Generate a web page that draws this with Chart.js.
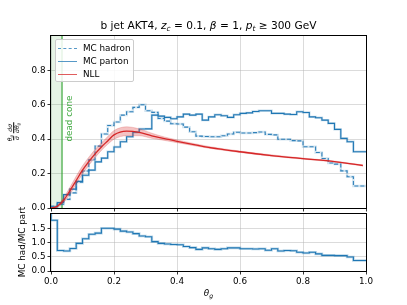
<!DOCTYPE html>
<html lang="en">
<head>
<meta charset="UTF-8">
<title>b jet AKT4 theta_g</title>
<script src="https://cdn.jsdelivr.net/npm/chart.js"></script>
<style>
  body { margin:0; width:407px; height:305px; background:#fff; position:relative; overflow:hidden;
         font-family:"DejaVu Sans", sans-serif; color:#000; }
  canvas { position:absolute; left:0; }
  #main { top:0; }
  #ratio { top:210px; }
  #title { position:absolute; left:0; width:417px; top:19px; text-align:center; font-size:10.6px; white-space:nowrap; }
  #title sub, #xlab sub, #ylab sub { font-size:0.7em; vertical-align:-0.25em; line-height:0; }
  .rot { position:absolute; transform:translate(-50%,-50%) rotate(-90deg); white-space:nowrap; }
  #ylab { left:13.5px; top:132px; font-size:6px; font-style:italic; display:flex; align-items:center; }
  .frac { display:inline-flex; flex-direction:column; align-items:center; margin:0 1px; line-height:1.05; }
  .den { border-top:0.6px solid #000; }
  #rlab { left:21.5px; top:242px; font-size:8.8px; }
  #xlab { position:absolute; left:0; width:417px; top:288px; text-align:center; font-size:8.8px; font-style:italic; }
  #legend { position:absolute; left:55px; top:39px; width:79px; height:43px; box-sizing:border-box;
            border:1px solid #ccc; border-radius:2px; background:rgba(255,255,255,0.85);
            font-size:8.8px; padding-top:2px; z-index:2; }
  #legend .row { height:13px; line-height:13px; white-space:nowrap; }
  #legend .hd { display:inline-block; width:19px; margin:0 6px 0 2px; vertical-align:middle; border-top:1.5px solid; }
</style>
</head>
<body>
<canvas id="main" width="407" height="212"></canvas>
<canvas id="ratio" width="407" height="95"></canvas>

<div id="title">b jet AKT4, <i>z</i><sub><i>c</i></sub> = 0.1, <i>β</i> = 1, <i>p</i><sub><i>t</i></sub> ≥ 300 GeV</div>
<div id="ylab" class="rot">
  <span class="frac"><span>θ<sub>g</sub></span><span class="den">σ</span></span>
  <span class="frac"><span>dσ</span><span class="den">dθ<sub>g</sub></span></span>
</div>
<div id="rlab" class="rot">MC had/MC part</div>
<div id="xlab">θ<sub>g</sub></div>
<div id="legend">
  <div class="row"><span class="hd" style="border-top:1.5px dashed rgba(31,119,180,0.75)"></span>MC hadron</div>
  <div class="row"><span class="hd" style="border-color:rgba(31,119,180,0.75)"></span>MC parton</div>
  <div class="row"><span class="hd" style="border-color:rgba(214,39,40,0.75)"></span>NLL</div>
</div>

<script>
// axis ticks
const xTicks = [0, 0.2, 0.4, 0.6, 0.8, 1.0];
const mainYTicks = [0, 0.2, 0.4, 0.6, 0.8];
const ratioYTicks = [0, 0.5, 1.0, 1.5];
const deadConeEdge = 0.035;

// histograms, 50 bins of width 0.02 on [0, 1]
const hadron = [0.004, 0.01, 0.022, 0.05, 0.088, 0.15, 0.215, 0.28, 0.36, 0.43,
                0.48, 0.5, 0.54, 0.56, 0.585, 0.6, 0.565, 0.556, 0.52, 0.505,
                0.49, 0.488, 0.47, 0.443, 0.418, 0.416, 0.414, 0.414, 0.42, 0.43,
                0.44, 0.436, 0.436, 0.438, 0.442, 0.428, 0.425, 0.4, 0.4, 0.392,
                0.39, 0.356, 0.356, 0.323, 0.288, 0.262, 0.255, 0.216, 0.182, 0.128];
const parton = [0.002, 0.0056, 0.031, 0.078, 0.11, 0.155, 0.19, 0.22, 0.268, 0.29,
                0.327, 0.355, 0.385, 0.414, 0.44, 0.459, 0.46, 0.54, 0.534, 0.527,
                0.519, 0.53, 0.546, 0.54, 0.546, 0.511, 0.53, 0.542, 0.536, 0.527,
                0.542, 0.55, 0.553, 0.561, 0.565, 0.565, 0.55, 0.55, 0.546, 0.544,
                0.56, 0.555, 0.53, 0.525, 0.511, 0.492, 0.457, 0.405, 0.385, 0.327];
const ratio = [2.6, 1.78, 0.72, 0.70, 0.79, 0.97, 1.13, 1.29, 1.33, 1.5,
               1.5, 1.47, 1.4, 1.37, 1.31, 1.23, 1.2, 1.03, 0.97, 0.95,
               0.93, 0.92, 0.86, 0.82, 0.76, 0.81, 0.78, 0.76, 0.78, 0.81,
               0.81, 0.78, 0.78, 0.77, 0.78, 0.73, 0.78, 0.7, 0.72, 0.71,
               0.66, 0.63, 0.66, 0.6, 0.55, 0.55, 0.54, 0.54, 0.49, 0.37];

// NLL curve and its band
const nllTheta = [0, 0.02, 0.04, 0.06, 0.08, 0.1, 0.12, 0.14, 0.16, 0.18, 0.2,
                  0.24, 0.28, 0.32, 0.36, 0.4, 0.5, 0.6, 0.7, 0.8, 0.9, 0.99];
const nll   = [0, 0.01, 0.045, 0.1, 0.16, 0.22, 0.27, 0.315, 0.355, 0.39, 0.425,
               0.447, 0.44, 0.42, 0.403, 0.388, 0.353, 0.327, 0.305, 0.287, 0.27, 0.247];
const nllHi = [0, 0.015, 0.06, 0.12, 0.185, 0.245, 0.295, 0.34, 0.378, 0.415, 0.45,
               0.472, 0.46, 0.435, 0.413, 0.396, 0.358, 0.331, 0.309, 0.29, 0.273, 0.25];
const nllLo = [0, 0.005, 0.032, 0.08, 0.138, 0.198, 0.248, 0.293, 0.335, 0.37, 0.4,
               0.42, 0.42, 0.405, 0.393, 0.38, 0.348, 0.323, 0.301, 0.284, 0.267, 0.244];

const binEdges = hadron.map((_, i) => +(i * 0.02).toFixed(2)).concat(1.0);

function steps(vals) {
  const pts = vals.map((v, i) => ({ x: binEdges[i], y: v }));
  pts.push({ x: binEdges[vals.length], y: vals[vals.length - 1] });
  return pts;
}
const curve = vals => vals.map((v, i) => ({ x: nllTheta[i], y: v }));

const BLUE = '#1f77b4', RED = '#d62728';
const tickFont = { family: 'DejaVu Sans', size: 8.8 };

const frame = {
  id: 'frame',
  afterDatasetsDraw(chart) {
    const a = chart.chartArea, c = chart.ctx;
    c.save();
    c.strokeStyle = '#000';
    c.lineWidth = 1;
    c.strokeRect(a.left - 0.5, a.top - 0.5, a.right - a.left + 1, a.bottom - a.top + 1);
    c.restore();
  }
};

const deadCone = {
  id: 'deadCone',
  beforeDatasetsDraw(chart) {
    const { ctx, chartArea: a, scales: { x, y } } = chart;
    const x0 = x.getPixelForValue(0), x1 = x.getPixelForValue(deadConeEdge);
    ctx.save();
    ctx.fillStyle = 'rgba(44,160,44,0.12)';
    ctx.fillRect(x0, a.top, x1 - x0, a.bottom - a.top);
    ctx.strokeStyle = 'rgba(44,160,44,0.85)';
    ctx.lineWidth = 1.3;
    ctx.beginPath();
    ctx.moveTo(x1, a.top);
    ctx.lineTo(x1, a.bottom);
    ctx.stroke();
    ctx.translate(x1 + 7.5, y.getPixelForValue(0.52));
    ctx.rotate(-Math.PI / 2);
    ctx.fillStyle = 'rgba(44,160,44,0.9)';
    ctx.font = '8.8px "DejaVu Sans"';
    ctx.textAlign = 'center';
    ctx.textBaseline = 'middle';
    ctx.fillText('dead cone', 0, 0);
    ctx.restore();
  }
};

function xScale(showLabels, height) {
  return {
    type: 'linear', min: 0, max: 1,
    afterBuildTicks: s => { s.ticks = xTicks.map(v => ({ value: v })); },
    afterFit: s => { s.height = height; s.paddingLeft = 0; s.paddingRight = 0; },
    ticks: { display: showLabels, font: tickFont, color: '#000', padding: 2,
             maxRotation: 0, callback: v => v.toFixed(1) },
    grid: { color: 'rgba(180,180,180,0.6)', lineWidth: 0.8, tickColor: '#000', tickLength: 3.5 },
    border: { display: false }
  };
}
function yScale(max, ticks) {
  return {
    min: 0, max: max,
    afterBuildTicks: s => { s.ticks = ticks.map(v => ({ value: v })); },
    afterFit: s => { s.width = 51; s.paddingTop = 0; s.paddingBottom = 0; },
    ticks: { font: tickFont, color: '#000', padding: 2, callback: v => v.toFixed(1) },
    grid: { color: 'rgba(180,180,180,0.6)', lineWidth: 0.8, tickColor: '#000', tickLength: 3.5 },
    border: { display: false }
  };
}

const common = {
  responsive: false,
  animation: false,
  events: [],
  elements: { point: { radius: 0 } },
  plugins: { legend: { display: false }, tooltip: { enabled: false } }
};

new Chart(document.getElementById('main'), {
  type: 'line',
  data: {
    datasets: [
      { data: curve(nll), borderColor: RED, borderWidth: 1.3, cubicInterpolationMode: 'monotone', order: 0 },
      { data: curve(nllHi), borderColor: 'rgba(214,39,40,0.35)', borderWidth: 0.6,
        backgroundColor: 'rgba(214,39,40,0.28)', fill: '+1', cubicInterpolationMode: 'monotone', order: 1 },
      { data: curve(nllLo), borderColor: 'rgba(214,39,40,0.35)', borderWidth: 0.6,
        cubicInterpolationMode: 'monotone', order: 2 },
      { data: steps(parton), borderColor: 'rgba(31,119,180,0.25)', borderWidth: 2.4, stepped: 'after', order: 5 },
      { data: steps(parton), borderColor: BLUE, borderWidth: 1.1, stepped: 'after', order: 3 },
      { data: steps(hadron), borderColor: 'rgba(31,119,180,0.2)', borderWidth: 2.4, stepped: 'after', order: 6 },
      { data: steps(hadron), borderColor: 'rgba(31,119,180,0.9)', borderWidth: 1.1, borderDash: [4, 2], stepped: 'after', order: 4 }
    ]
  },
  options: {
    ...common,
    layout: { padding: { left: 0, top: 36, right: 41, bottom: 0 } },
    scales: { x: xScale(false, 4), y: yScale(1.0, mainYTicks) }
  },
  plugins: [deadCone, frame]
});

new Chart(document.getElementById('ratio'), {
  type: 'line',
  data: {
    datasets: [
      { data: steps(ratio), borderColor: BLUE, borderWidth: 1.1, stepped: 'after', order: 0 },
      { data: steps(ratio), borderColor: 'rgba(31,119,180,0.3)', borderWidth: 2.6, stepped: 'after', order: 1 }
    ]
  },
  options: {
    ...common,
    layout: { padding: { left: 0, top: 4, right: 41, bottom: 0 } },
    scales: { x: xScale(true, 34), y: yScale(2.0, ratioYTicks) }
  },
  plugins: [frame]
});
</script>
</body>
</html>
